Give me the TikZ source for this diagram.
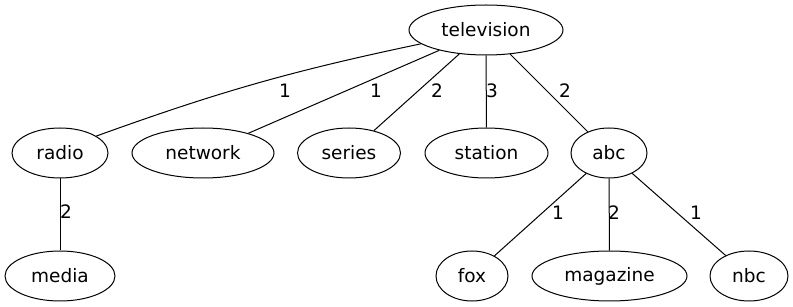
\documentclass[tikz,border=0pt]{standalone}
\usepackage{fontspec}
\setmainfont{DejaVu Sans}
\usetikzlibrary{shapes.geometric}

\begin{document}
\begin{tikzpicture}[
    x=1pt,
    y=-1pt,
    line width=1pt,
    word/.style={draw, ellipse, inner sep=0pt, minimum height=50pt,
      font=\fontsize{18.5}{22}\selectfont},
    weight/.style={inner sep=0pt, font=\fontsize{18.5}{22}\selectfont},
]
    \useasboundingbox (0,0) rectangle (793,307);
    % words, top row to bottom row
    \foreach \n/\x/\y/\w in {television/486/30/154,
        radio/60/153/96, network/203/153/142, series/349/153/103,
        station/486.5/153/123, abc/609/153/76,
        media/60/276/110, fox/472/276/72, magazine/609.5/276/155, nbc/749/276/78}
      \node[word, minimum width=\w pt] (\n) at (\x,\y) {\n};
    % links
    \draw (television.192) to[bend right=4] (radio.25);
    \foreach \a/\b in {television/network, television/series, television/station,
        television/abc, radio/media, abc/fox, abc/magazine, abc/nbc}
      \draw (\a) -- (\b);
    % weights
    \foreach \k/\v/\x/\y in {1/1/285/91, 2/1/376/91, 3/2/437/91, 4/3/492/91,
        5/2/565/91, 6/2/66/212, 7/1/558/213, 8/2/614/213, 9/1/696/213}
      \node[weight] (w\k) at (\x,\y) {\v};
\end{tikzpicture}
\end{document}
